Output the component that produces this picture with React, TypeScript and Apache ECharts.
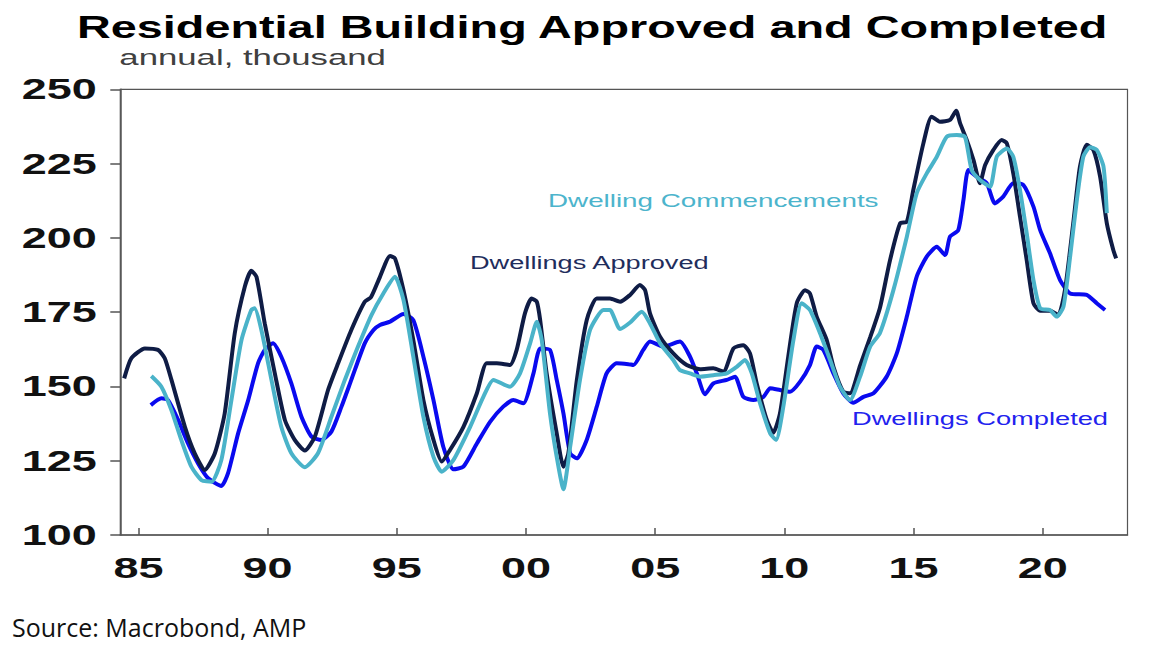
import React, { useEffect, useRef } from "react";
import * as echarts from "echarts";

// ---- data (decimal year, thousand dwellings, annual) ----
const approved: [number, number][] = [
  [1984.45, 152.7], [1984.73, 159.5], [1985.25, 162.8], [1985.76, 162.3], [1986.02, 159.5],
  [1986.28, 152.2], [1986.8, 136.4], [1987.18, 127.5], [1987.57, 121.9], [1987.96, 127.5],
  [1988.34, 140.9], [1988.73, 167.9], [1989.12, 183.6], [1989.37, 188.9], [1989.57, 186.9],
  [1989.89, 171.2], [1990.28, 154.4], [1990.67, 138.7], [1991.05, 132.0], [1991.44, 128.4],
  [1991.83, 133.1], [1992.34, 148.8], [1992.73, 157.8], [1993.24, 169.0], [1993.76, 178.5],
  [1994.0, 180.0], [1994.35, 186.9], [1994.74, 193.9], [1994.93, 193.1], [1995.26, 182.4],
  [1995.64, 165.6], [1996.03, 145.4], [1996.42, 132.0], [1996.74, 124.7], [1997.06, 128.6],
  [1997.58, 136.4], [1998.1, 147.7], [1998.48, 157.8], [1998.87, 157.8], [1999.38, 157.2],
  [1999.64, 162.3], [1999.96, 174.6], [2000.22, 179.6], [2000.42, 178.5], [2000.55, 172.3],
  [2000.8, 154.4], [2001.19, 134.2], [2001.45, 123.0], [2001.64, 127.5], [2001.97, 152.2],
  [2002.35, 172.3], [2002.74, 179.6], [2003.25, 179.6], [2003.64, 178.5], [2004.03, 180.8],
  [2004.41, 184.1], [2004.61, 182.4], [2004.8, 174.6], [2005.19, 166.7], [2005.7, 161.1],
  [2006.22, 157.2], [2006.74, 155.8], [2007.25, 156.1], [2007.64, 155.0], [2008.03, 162.8],
  [2008.41, 163.9], [2008.67, 161.1], [2008.93, 151.0], [2009.32, 138.7], [2009.57, 134.4],
  [2009.83, 140.9], [2010.15, 160.0], [2010.48, 178.0], [2010.8, 182.4], [2010.99, 181.3],
  [2011.25, 173.5], [2011.64, 165.6], [2011.9, 156.6], [2012.28, 148.2], [2012.54, 147.7],
  [2012.93, 157.0], [2013.32, 166.5], [2013.7, 176.5], [2014.09, 192.5], [2014.48, 204.9],
  [2014.74, 205.4], [2014.99, 216.1], [2015.38, 231.8], [2015.7, 240.8], [2016.02, 239.1],
  [2016.41, 239.7], [2016.65, 242.8], [2016.8, 238.6], [2017.06, 232.9], [2017.32, 226.2],
  [2017.57, 218.4], [2017.77, 224.5], [2018.09, 229.6], [2018.41, 232.9], [2018.61, 231.8],
  [2018.86, 221.7], [2019.12, 207.1], [2019.38, 192.5], [2019.64, 178.0], [2019.9, 175.5],
  [2020.28, 175.5], [2020.6, 174.0], [2020.86, 182.4], [2021.18, 204.9], [2021.44, 224.0],
  [2021.7, 231.3], [2021.96, 229.6], [2022.22, 220.6], [2022.48, 204.9], [2022.73, 195.9],
  [2022.84, 193.1],
];

const commencements: [number, number][] = [
  [1985.5, 153.5], [1985.89, 149.9], [1986.28, 142.0], [1986.66, 132.0], [1987.05, 123.0],
  [1987.44, 118.5], [1987.83, 117.9], [1988.21, 125.2], [1988.6, 145.4], [1988.99, 165.6],
  [1989.37, 175.7], [1989.5, 176.3], [1989.76, 169.0], [1990.15, 152.2], [1990.53, 136.4],
  [1990.92, 127.5], [1991.44, 122.8], [1991.95, 127.5], [1992.47, 139.8], [1992.99, 152.2],
  [1993.5, 163.4], [1994.02, 174.0], [1994.48, 181.3], [1994.93, 186.9], [1995.26, 179.1],
  [1995.64, 160.0], [1996.03, 139.8], [1996.42, 126.3], [1996.74, 121.3], [1997.19, 125.2],
  [1997.84, 136.4], [1998.35, 146.5], [1998.74, 152.2], [1999.38, 149.9], [1999.77, 154.4],
  [2000.16, 164.5], [2000.42, 171.8], [2000.61, 165.6], [2000.93, 140.9], [2001.19, 126.3],
  [2001.45, 115.4], [2001.71, 129.7], [2002.09, 152.2], [2002.48, 169.0], [2003.0, 175.7],
  [2003.25, 175.7], [2003.64, 169.3], [2004.03, 171.5], [2004.48, 175.1], [2004.8, 171.2],
  [2005.19, 164.5], [2005.7, 158.9], [2005.96, 155.5], [2006.35, 154.4], [2006.74, 153.3],
  [2007.25, 153.8], [2007.77, 154.4], [2008.16, 156.6], [2008.48, 158.9], [2008.74, 154.4],
  [2009.06, 144.3], [2009.45, 134.2], [2009.68, 132.0], [2009.96, 143.2], [2010.35, 165.6],
  [2010.67, 178.0], [2010.99, 175.7], [2011.38, 167.9], [2011.77, 158.9], [2012.15, 149.9],
  [2012.54, 145.4], [2012.93, 153.3], [2013.32, 163.4], [2013.7, 168.0], [2014.22, 182.4],
  [2014.74, 200.4], [2015.12, 215.0], [2015.51, 221.7], [2015.9, 227.3], [2016.28, 234.0],
  [2016.67, 234.6], [2016.99, 234.0], [2017.25, 222.8], [2017.57, 219.5], [2017.96, 217.2],
  [2018.22, 227.3], [2018.61, 230.1], [2018.86, 227.3], [2019.12, 216.1], [2019.38, 201.5],
  [2019.64, 185.8], [2019.9, 176.3], [2020.28, 175.7], [2020.54, 173.5], [2020.8, 176.8],
  [2021.06, 193.7], [2021.32, 212.7], [2021.57, 227.3], [2021.83, 230.5], [2022.09, 229.6],
  [2022.35, 224.0], [2022.48, 208.3],
];

const completed: [number, number][] = [
  [1985.48, 143.7], [1985.89, 146.0], [1986.15, 145.4], [1986.54, 138.7], [1986.92, 130.8],
  [1987.31, 124.1], [1987.7, 119.1], [1988.21, 116.5], [1988.47, 120.8], [1988.86, 134.2],
  [1989.25, 145.4], [1989.63, 157.8], [1989.89, 162.3], [1990.21, 164.5], [1990.53, 160.0],
  [1990.92, 151.0], [1991.31, 139.8], [1991.7, 133.1], [1992.08, 132.0], [1992.47, 134.8],
  [1992.86, 143.2], [1993.24, 152.2], [1993.76, 164.5], [1994.1, 169.0], [1994.35, 170.7],
  [1994.74, 171.8], [1995.26, 174.4], [1995.64, 172.3], [1996.03, 160.0], [1996.42, 145.4],
  [1996.8, 129.7], [1997.19, 122.1], [1997.58, 123.0], [1998.1, 130.8], [1998.61, 138.1],
  [1999.12, 143.2], [1999.51, 145.4], [1999.9, 144.3], [2000.29, 154.4], [2000.55, 162.8],
  [2000.93, 162.3], [2001.19, 152.2], [2001.45, 140.9], [2001.71, 127.5], [2001.97, 125.8],
  [2002.35, 132.0], [2002.74, 143.2], [2003.12, 154.4], [2003.51, 157.8], [2003.96, 157.5],
  [2004.16, 157.2], [2004.54, 162.3], [2004.8, 165.1], [2005.32, 163.4], [2005.96, 165.1],
  [2006.35, 160.0], [2006.61, 154.4], [2006.93, 147.4], [2007.25, 151.0], [2007.77, 152.2],
  [2008.09, 153.3], [2008.41, 146.5], [2008.8, 145.4], [2009.19, 146.5], [2009.45, 149.4],
  [2009.83, 148.8], [2010.22, 148.2], [2010.61, 151.6], [2010.99, 157.2], [2011.25, 163.4],
  [2011.51, 162.3], [2011.9, 154.4], [2012.28, 147.7], [2012.67, 144.5], [2013.06, 146.5],
  [2013.45, 147.7], [2013.96, 153.3], [2014.35, 161.1], [2014.74, 173.5], [2015.12, 186.9],
  [2015.51, 193.7], [2015.9, 197.0], [2016.22, 194.2], [2016.41, 200.4], [2016.73, 202.6],
  [2016.93, 212.7], [2017.12, 222.8], [2017.44, 220.6], [2017.83, 218.4], [2018.15, 211.6],
  [2018.47, 213.9], [2018.86, 218.4], [2019.25, 217.8], [2019.64, 210.5], [2019.9, 202.6],
  [2020.28, 194.8], [2020.67, 185.8], [2021.06, 181.3], [2021.7, 180.8], [2022.09, 178.0],
  [2022.41, 175.7],
];

const xTickYears = [1985, 1990, 1995, 2000, 2005, 2010, 2015, 2020];
const xTickLabels = ["85", "90", "95", "00", "05", "10", "15", "20"];
const yTickValues = [100, 125, 150, 175, 200, 225, 250];
const yTickLabels = ["100", "125", "150", "175", "200", "225", "250"];

const X_MIN = 1984.3;
const X_MAX = 2023.28;

const NAVY = "#0f1c45";
const TEAL = "#4ab3c9";
const BLUE = "#0a0aef";

export default function App() {
  const ref = useRef<HTMLDivElement>(null);

  useEffect(() => {
    document.body.style.margin = "0";
    const chart = echarts.init(ref.current!, null, { renderer: "svg" });
    chart.setOption({
      animation: false,
      backgroundColor: "#ffffff",
      grid: {
        left: 120.3,
        right: 25.5,
        top: 89.3,
        bottom: 117,
        show: true,
        borderColor: "#555",
        borderWidth: 1.2,
        backgroundColor: "transparent",
      },
      xAxis: {
        type: "value",
        min: X_MIN,
        max: X_MAX,
        axisLine: { show: true, lineStyle: { color: "#555", width: 1.5 } },
        axisTick: {
          show: true,
          inside: true,
          length: 7,
          customValues: xTickYears,
          lineStyle: { color: "#555", width: 1.5 },
        },
        axisLabel: { show: false, customValues: xTickYears },
        splitLine: { show: false },
      },
      yAxis: {
        type: "value",
        min: 100,
        max: 250,
        interval: 25,
        axisLine: { show: true, lineStyle: { color: "#555", width: 1.5 } },
        axisTick: { show: true, inside: false, length: 10, lineStyle: { color: "#555", width: 1.5 } },
        axisLabel: { show: false },
        splitLine: { show: false },
      },
      series: [
        {
          name: "Dwellings Completed",
          type: "line",
          data: completed,
          showSymbol: false,
          symbol: "none",
          smooth: 0.2,
          lineStyle: { color: BLUE, width: 4 },
          z: 2,
        },
        {
          name: "Dwellings Approved",
          type: "line",
          data: approved,
          showSymbol: false,
          symbol: "none",
          smooth: 0.2,
          lineStyle: { color: NAVY, width: 4 },
          z: 3,
        },
        {
          name: "Dwelling Commencements",
          type: "line",
          data: commencements,
          showSymbol: false,
          symbol: "none",
          smooth: 0.2,
          lineStyle: { color: TEAL, width: 4 },
          z: 4,
        },
      ],
    });

    const axisX = chart.convertToPixel({ xAxisIndex: 0 }, X_MIN) as number;
    const axisY = chart.convertToPixel({ yAxisIndex: 0 }, 100) as number;

    const tickFont = { fontSize: 29, fontWeight: "bold", fontFamily: "Liberation Sans, Arial, sans-serif" };

    const yLabelEls = yTickValues.map((v, i) => ({
      type: "text",
      x: axisX - 23.6,
      y: chart.convertToPixel({ yAxisIndex: 0 }, v) as number,
      scaleX: 1.55,
      silent: true,
      style: { text: yTickLabels[i], ...tickFont, fill: "#111", align: "right", verticalAlign: "middle" },
    }));

    const xLabelEls = xTickYears.map((v, i) => ({
      type: "text",
      x: chart.convertToPixel({ xAxisIndex: 0 }, v) as number,
      y: axisY + 33,
      scaleX: 1.55,
      silent: true,
      style: { text: xTickLabels[i], ...tickFont, fill: "#111", align: "center", verticalAlign: "middle" },
    }));

    const textEl = (
      text: string,
      x: number,
      y: number,
      size: number,
      color: string,
      scaleX: number,
      weight: string = "normal",
      family: string = "Liberation Sans, Arial, sans-serif"
    ) => ({
      type: "text",
      x,
      y,
      scaleX,
      silent: true,
      style: {
        text,
        fontSize: size,
        fontWeight: weight,
        fontFamily: family,
        fill: color,
        align: "left",
        verticalAlign: "middle",
      },
    });

    chart.setOption({
      graphic: [
        textEl("Residential Building Approved and Completed", 77, 27.5, 31, "#000", 1.51, "bold"),
        textEl("annual, thousand", 119.3, 57.5, 22, "#404040", 1.58),
        textEl("Dwellings Approved", 470, 263, 18, "#1f2d5c", 1.51),
        textEl("Dwelling Commencements", 548, 201, 18, "#4cb4cc", 1.545),
        textEl("Dwellings Completed", 852, 419, 18, "#2222ee", 1.515),
        textEl("Source: Macrobond, AMP", 12, 627, 25, "#111", 1, "normal", "Open Sans, sans-serif"),
        ...yLabelEls,
        ...xLabelEls,
      ],
    });

    return () => chart.dispose();
  }, []);

  return (
    <div
      ref={ref}
      style={{ position: "fixed", left: 0, top: 0, width: 1153, height: 652, background: "#fff" }}
    />
  );
}
